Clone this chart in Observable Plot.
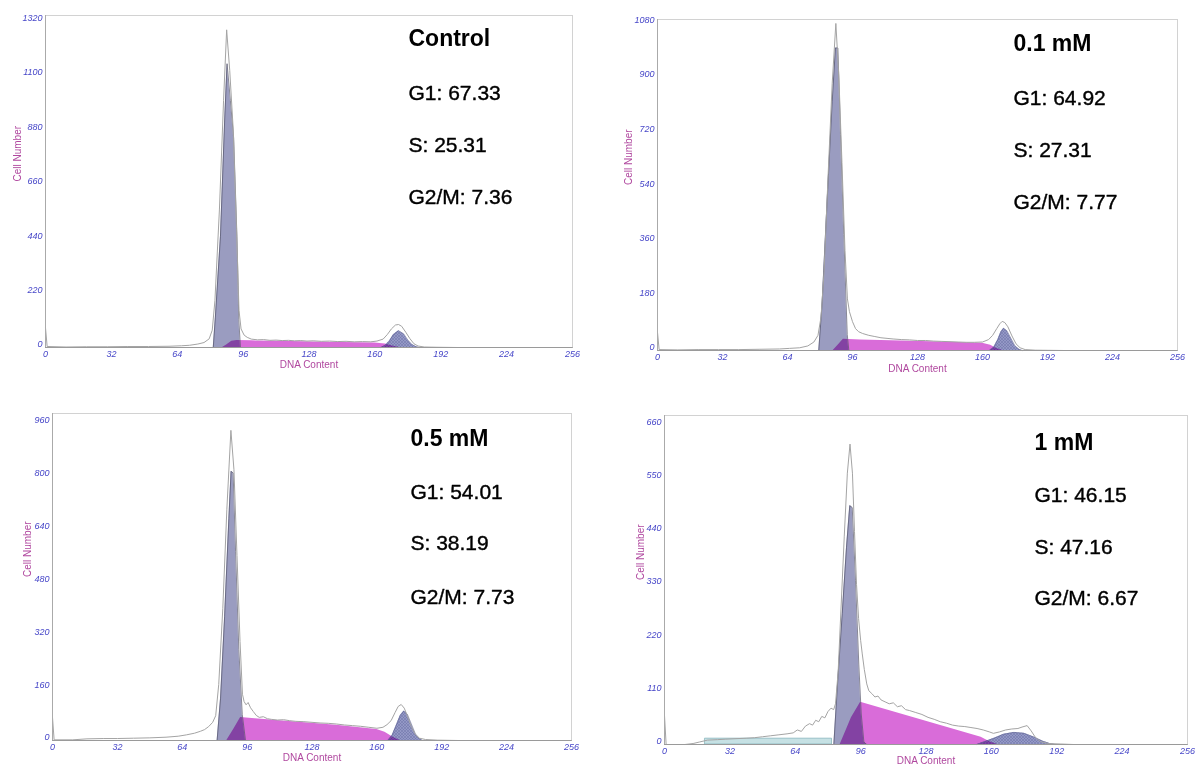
<!DOCTYPE html>
<html>
<head>
<meta charset="utf-8">
<script src="https://cdn.jsdelivr.net/npm/d3@7"></script>
<script src="https://cdn.jsdelivr.net/npm/@observablehq/plot@0.6"></script>
<style>
  body { margin: 0; background: #fff; }
  #root { position: relative; width: 1195px; height: 767px; overflow: hidden; background: #fff; }
  .panel { position: absolute; }
</style>
</head>
<body>
<svg width="0" height="0" style="position:absolute">
  <defs>
    <pattern id="hatch" patternUnits="userSpaceOnUse" width="3" height="3">
      <rect width="3" height="3" fill="#9498c6"></rect>
      <path d="M0,0L3,3M3,0L0,3" stroke="#6a6fa6" stroke-width="0.45"></path>
    </pattern>
  </defs>
</svg>
<div id="root"></div>
<script>
// ---------------- DATA ----------------
const panelTitles = ["Control", "0.1 mM", "0.5 mM", "1 mM"];
const g1Pct  = [67.33, 64.92, 54.01, 46.15];
const sPct   = [25.31, 27.31, 38.19, 47.16];
const g2mPct = [7.36, 7.77, 7.73, 6.67];

const xTicks = [0, 32, 64, 96, 128, 160, 192, 224, 256];
const yTicksControl = [0, 220, 440, 660, 880, 1100, 1320];
const yTicks01 = [0, 180, 360, 540, 720, 900, 1080];
const yTicks05 = [0, 160, 320, 480, 640, 800, 960];
const yTicks1 = [0, 110, 220, 330, 440, 550, 660];

// [DNA content, cell number]
const rawControl = [[0,80],[0.8,4],[10,2],[20,3],[30,3],[40,4],[50,4],[60,5],[66,7],[70,9],[74,14],[77,20],[79.5,35],[81,70],[82.3,190],[84.5,560],[86.5,1000],[88,1285],[89.5,1120],[91.2,880],[92.8,480],[94,150],[95,75],[96.5,50],[98,41],[100,34],[103,31],[106,32],[109,29],[112,30],[115,28],[118,29],[121,27],[124,28],[127,26],[130,27],[134,25],[138,26],[142,24],[146,25],[150,23],[154,24],[158,23],[161,26],[164,34],[166,52],[168,75],[170,91],[171.5,93],[173,86],[175,62],[177,36],[179,15],[181,6],[184,2],[190,1],[200,0],[256,0]];
const g1Control = [[81.5,0],[82.5,120],[85,450],[87,912],[88.2,1148],[89.8,1000],[91.4,848],[93,448],[93.9,112],[94.7,0]];
const sControl = [[86,0],[88,10],[90.5,25],[93,28],[100,27],[115,25],[130,22],[145,20],[160,18],[165,14],[168.5,6],[172,0]];
const g2Control = [[163,0],[165,8],[167,25],[169,52],[171.5,68],[174,55],[176,30],[178,12],[180,3],[181.5,0]];

const raw01 = [[0,60],[0.8,3],[10,2],[20,3],[30,3],[40,3],[50,4],[60,5],[65,7],[70,9],[74,15],[77,28],[79,50],[80.5,110],[82,260],[84,580],[86,880],[87.8,1078],[89.3,900],[90.8,620],[92.3,330],[93.5,170],[94.5,128],[96,95],[97.5,72],[99,62],[101,56],[104,50],[107,46],[110,42],[113,40],[116,38],[120,36],[124,35],[128,33],[132,33],[136,31],[140,30],[144,29],[148,28],[152,27],[156,27],[160,28],[163,36],[165,50],[167,72],[168.5,88],[169.7,96],[171,92],[172.5,78],[174.5,48],[176.5,22],[178.5,9],[181,3],[186,1],[200,0],[256,0]];
const g101 = [[79.4,0],[81.1,162],[83.5,491],[86,821],[87.6,997],[88.8,997],[90.1,712],[91.7,382],[93.4,53],[94.2,0]];
const s01 = [[86.5,0],[89,18],[91.5,37],[100,35],[120,31],[140,28],[160,24],[164,17],[167,7],[170,0]];
const g201 = [[163.5,0],[165.5,10],[167.5,35],[169,60],[170.4,73],[172,65],[174,40],[176,15],[178,4],[179.5,0]];

const raw05 = [[0,70],[0.8,2],[10,2],[17,5],[25,6],[32,6],[40,7],[48,8],[56,10],[62,13],[66,17],[70,22],[73,28],[75,33],[77,42],[79,55],[80.5,75],[82,170],[84,400],[86,700],[88,939],[89.5,820],[91,560],[92.5,300],[93.7,140],[94.5,118],[95.5,108],[96.5,115],[97.7,99],[99,88],[100.5,76],[102,70],[104,72],[106,66],[108,64],[111,62],[114,63],[117,60],[120,58],[124,57],[128,55],[132,53],[136,52],[140,50],[144,47],[148,45],[152,43],[156,40],[160,37],[163,40],[165,48],[167,60],[169,85],[170.5,103],[172,109],[173.5,98],[175,75],[177,42],[179,18],[181,7],[184,3],[190,1],[200,0],[256,0]];
const g105 = [[81.2,0],[82.9,128],[84.9,375],[87,672],[88.1,815],[89.1,810],[90.3,573],[91.9,276],[93.6,79],[95.2,0]];
const s05 = [[86,0],[89.5,35],[92.8,70],[100,66],[120,56],[140,46],[160,33],[164,25],[168,10],[171.5,0]];
const g205 = [[165.5,0],[167.5,15],[169.5,45],[171.5,75],[173.3,89],[175,80],[177,50],[179,20],[181,6],[182.5,0]];

const raw1 = [[0,60],[0.8,0],[10,0],[14,2],[17,5],[21,9],[26,10],[30,11],[35,12],[40,13],[44,14],[48,16],[52,18],[56,20],[60,22],[63,24],[65,30],[67,27],[69,38],[71,43],[72.5,40],[74,50],[75.5,47],[77,58],[78.5,55],[80,68],[81.5,75],[82.8,72],[83.7,84],[85,150],[86.5,290],[88,430],[89.5,560],[90.8,620],[92,560],[93,440],[94,330],[95,260],[96,215],[96.8,187],[97.8,155],[99,125],[100,111],[101.5,105],[103,98],[104.5,100],[106,92],[108,88],[110,84],[112,86],[114,78],[116,80],[118,72],[120,70],[123,66],[126,62],[129,56],[132,52],[135,47],[138,44],[141,40],[144,38],[147,37],[150,35],[153,33],[156,30],[159,26],[161,23],[164,26],[167,30],[170,32],[173,33],[175,36],[177.5,39],[179.5,28],[181.5,15],[184,6],[188,2],[194,1],[200,0],[256,0]];
const g11 = [[82.9,0],[84.8,132],[87,270],[89.1,407],[90.7,493],[91.9,489],[93.5,338],[95.1,166],[96.3,63],[97.6,5],[99,0]];
const s1 = [[86,0],[89,30],[91.5,55],[96,87],[155,15],[159,6],[163,0]];
const g21 = [[153,0],[157,6],[162,14],[166,21],[171,25],[176,23],[181,15],[185,7],[188.5,2],[191,0]];
const debris1 = [[20,12],[82,12]];

// ---------------- LAYOUT / STYLE ----------------
const panels = [
  {raw: rawControl, g1: g1Control, s: sControl, g2: g2Control, debris: null, yTicks: yTicksControl,
   left: 0, top: 0, w: 597, h: 380, ml: 45, mr: 25, mt: 15, mb: 33, yMax: 1343,
   tx: 363, ty: [23, 78, 130, 182], cellDx: -28, dnaDy: 17},
  {raw: raw01, g1: g101, s: s01, g2: g201, debris: null, yTicks: yTicks01,
   left: 600, top: 0, w: 595, h: 380, ml: 57, mr: 18, mt: 19, mb: 30, yMax: 1091,
   tx: 356, ty: [24, 79, 131, 183], cellDx: -29, dnaDy: 18},
  {raw: raw05, g1: g105, s: s05, g2: g205, debris: null, yTicks: yTicks05,
   left: 0, top: 380, w: 597, h: 387, ml: 52, mr: 26, mt: 33, mb: 27, yMax: 990,
   tx: 358, ty: [25, 79, 130, 184], cellDx: -25, dnaDy: 17},
  {raw: raw1, g1: g11, s: s1, g2: g21, debris: debris1, yTicks: yTicks1,
   left: 600, top: 380, w: 595, h: 387, ml: 64, mr: 8, mt: 35, mb: 23, yMax: 679,
   tx: 370, ty: [27, 80, 132, 183], cellDx: -24, dnaDy: 16}
];

const tickColor = "#4646c8";
const labelColor = "#b0489f";
const font = '"Liberation Sans", Arial, sans-serif';
const X = d => d[0], Y = d => d[1];

const root = document.getElementById("root");

panels.forEach((p, i) => {
  const statLines = [
    `G1: ${g1Pct[i].toFixed(2)}`,
    `S: ${sPct[i].toFixed(2)}`,
    `G2/M: ${g2mPct[i].toFixed(2)}`
  ];
  const chart = Plot.plot({
    width: p.w, height: p.h,
    marginLeft: p.ml, marginRight: p.mr, marginTop: p.mt, marginBottom: p.mb,
    x: {domain: [0, 256], axis: null},
    y: {domain: [0, p.yMax], axis: null},
    style: {fontFamily: font, background: "white", overflow: "visible"},
    marks: [
      Plot.frame({stroke: "#d2d2d2"}),
      p.debris ? Plot.areaY(p.debris, {x: X, y: Y, fill: "#c6e1e4", stroke: "#86b6bd", strokeWidth: 0.8}) : null,
      Plot.areaY(p.g1, {x: X, y: Y, fill: "#9a9cc0"}),
      Plot.areaY(p.g2, {x: X, y: Y, fill: "url(#hatch)"}),
      Plot.areaY(p.s, {x: X, y: Y, fill: "#d96cd9", mixBlendMode: "multiply"}),
      Plot.lineY(p.g1, {x: X, y: Y, stroke: "#55556a", strokeWidth: 0.7}),
      Plot.lineY(p.g2, {x: X, y: Y, stroke: "#646896", strokeWidth: 0.6}),
      Plot.lineY(p.raw, {x: X, y: Y, stroke: "#a4a4a4", strokeWidth: 1}),
      Plot.ruleY([0], {stroke: "#9a9a9a"}),
      Plot.ruleX([0], {stroke: "#aaaaaa"}),
      Plot.text(xTicks, {x: d => d, frameAnchor: "bottom", dy: 3, lineAnchor: "top", text: d => String(d),
        fill: tickColor, fontStyle: "italic", fontSize: 9}),
      Plot.text(p.yTicks, {y: d => d, frameAnchor: "left", dx: -3, dy: -3, text: d => String(d),
        textAnchor: "end", fill: tickColor, fontStyle: "italic", fontSize: 9}),
      Plot.text(["Cell Number"], {frameAnchor: "left", dx: p.cellDx, rotate: -90,
        fill: labelColor, fontSize: 10}),
      Plot.text(["DNA Content"], {frameAnchor: "bottom", dy: p.dnaDy, lineAnchor: "middle",
        fill: labelColor, fontSize: 10}),
      Plot.text([panelTitles[i]], {frameAnchor: "top-left", dx: p.tx, dy: p.ty[0],
        textAnchor: "start", lineAnchor: "middle", fontSize: 23, fontWeight: "bold", fill: "#000"}),
      ...statLines.map((t, k) => Plot.text([t], {frameAnchor: "top-left", dx: p.tx, dy: p.ty[k + 1],
        textAnchor: "start", lineAnchor: "middle", fontSize: 21, fill: "#000",
        stroke: "#000", strokeWidth: 0.4}))
    ]
  });
  const div = document.createElement("div");
  div.className = "panel";
  div.style.left = p.left + "px";
  div.style.top = p.top + "px";
  div.appendChild(chart);
  root.appendChild(div);
});
</script>
</body>
</html>
